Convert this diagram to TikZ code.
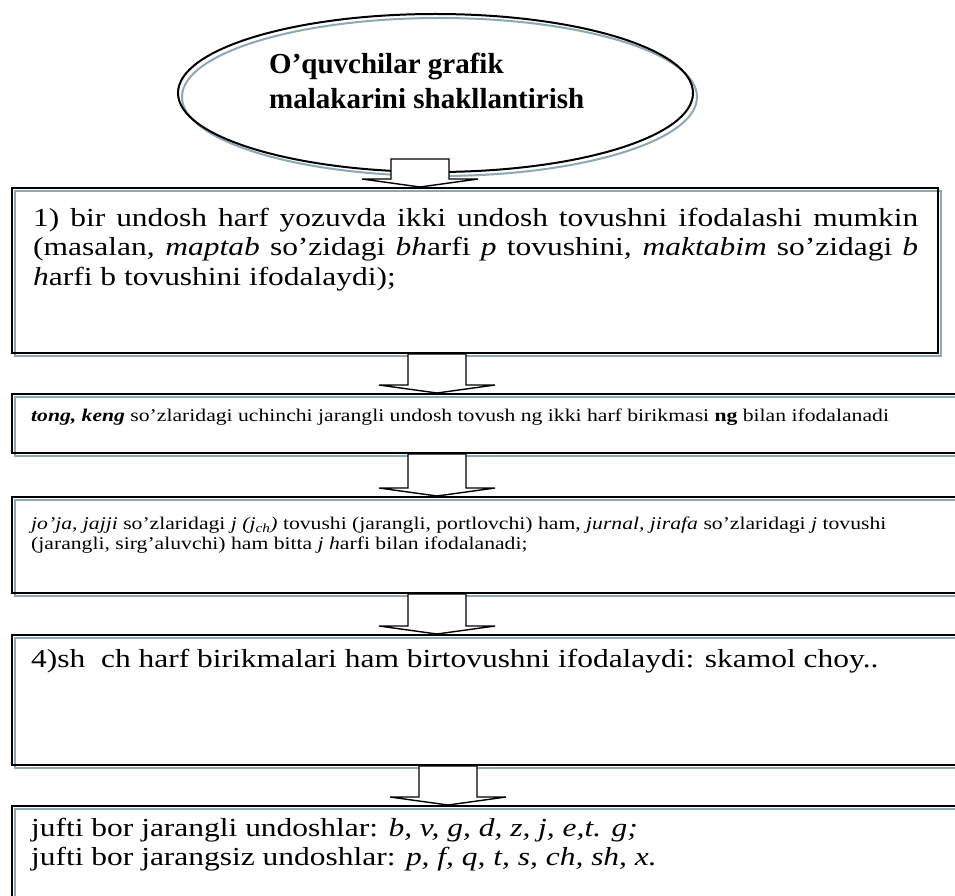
\documentclass[tikz,border=0pt]{standalone}
\usepackage{fontspec}
\setmainfont{Liberation Serif}
\newfontfamily\boxfont[FakeStretch=1.21]{Liberation Serif}
\usetikzlibrary{calc,shapes.geometric}
\definecolor{shadowcol}{RGB}{140,168,178}

\begin{document}
\begin{tikzpicture}[
        x=1pt, y=-1pt,
        shade/.style={preaction={draw=shadowcol, line width=2pt,
            transform canvas={shift={(3pt,-3pt)}}}},
        frame/.style={shade, draw=black, line width=2pt, rectangle,
            anchor=north west, inner sep=0pt},
        oval/.style={ellipse, draw=black, line width=2pt, inner sep=0pt,
            preaction={draw=shadowcol, line width=2pt,
            transform canvas={shift={(4pt,-4pt)}}}},
        blockarrow/.style={draw=black, line width=1.4pt, fill=white,
            line join=miter},
        big/.style={anchor=north west, inner sep=0pt, align=left,
            font=\boxfont\fontsize{26}{29.3}\selectfont},
        small/.style={anchor=north west, inner sep=0pt, align=left,
            font=\boxfont\fontsize{17.9}{20}\selectfont},
    ]
    \clip (0,0) rectangle (955,896);
    % title oval
    \node[oval, minimum width=515, minimum height=158] (top) at (435.5,93) {};
    \node[anchor=north west, inner sep=0pt, align=left,
          font=\fontsize{29}{35}\selectfont\bfseries] (title) at (269,53)
          {O’quvchilar grafik\\malakarini shakllantirish};
    % boxes
    \node[frame, minimum width=926, minimum height=165] (b1) at (11,187) {};
    \node[frame, minimum width=990, minimum height=59] (b2) at (11,393) {};
    \node[frame, minimum width=990, minimum height=96] (b3) at (11,496) {};
    \node[frame, minimum width=990, minimum height=130] (b4) at (11,634) {};
    \node[frame, minimum width=990, minimum height=130] (b5) at (11,805) {};
    % texts
    \node[big, text width=885, align=justify] (t1) at (33,208)
        {1) bir undosh harf yozuvda ikki undosh tovushni ifodalashi mumkin\linebreak
         (masalan, \textit{maptab} so’zidagi \textit{bh}arfi \textit{p} tovushini,
         \textit{maktabim} so’zidagi \textit{b}\linebreak
         \textit{h}arfi b tovushini ifodalaydi);};
    \node[small] (t2) at (31,409)
        {\textbf{\textit{tong, keng}} so’zlaridagi uchinchi jarangli undosh tovush ng
         ikki harf birikmasi \textbf{ng} bilan ifodalanadi};
    \node[small] (t3) at (31,516.5)
        {\textit{jo’ja, jajji} so’zlaridagi \textit{j (j\textsubscript{ch})} tovushi
         (jarangli, portlovchi) ham, \textit{jurnal, jirafa} so’zlaridagi \textit{j}
         tovushi\\(jarangli, sirg’aluvchi) ham bitta \textit{j h}arfi bilan ifodalanadi;};
    \node[big] (t4) at (31,648.5)
        {4)sh\ \ ch harf birikmalari ham birtovushni ifodalaydi: skamol choy..};
    \node[big] (t5) at (31,818)
        {jufti bor jarangli undoshlar: \textit{b, v, g, d, z, j, e,t. g;}\\
         jufti bor jarangsiz undoshlar: \textit{p, f, q, t, s, ch, sh, x.}};
    % block arrows between the shapes
    \coordinate (a1top) at (420,159);
    \foreach \xc/\from/\to in {420/a1top/b1.north, 437/b1.south/b2.north,
            437/b2.south/b3.north, 437/b3.south/b4.north, 448/b4.south/b5.north}
        \draw[blockarrow] let \p1=(\xc,0 |- \from), \p2=(\xc,0 |- \to) in
            (\x1-29pt,\y1) -- (\x1+29pt,\y1) -- (\x1+29pt,\y2+8pt)
            -- (\x1+58pt,\y2+8pt) -- (\x2,\y2) -- (\x1-58pt,\y2+8pt)
            -- (\x1-29pt,\y2+8pt) -- cycle;
\end{tikzpicture}
\end{document}
